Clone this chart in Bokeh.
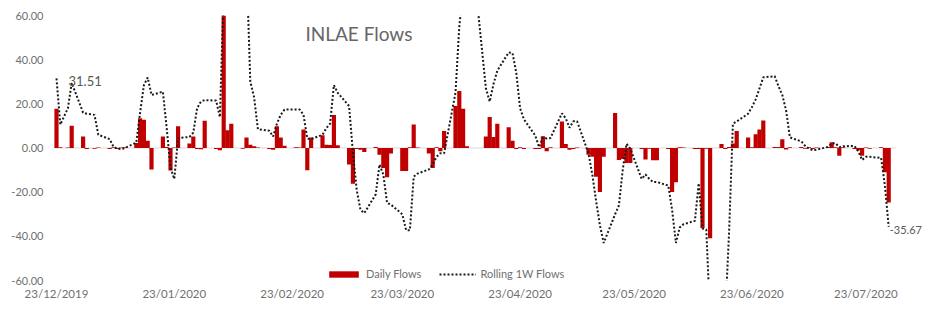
import pandas as pd
from bokeh.plotting import figure
from bokeh.models import (Range1d, FixedTicker, DatetimeTickFormatter, NumeralTickFormatter,
                          Label, Legend, LegendItem, ColumnDataSource)
from bokeh.embed import file_html
from bokeh.resources import INLINE

# ---------------- data ----------------
dates = (
    ["2019-12-23", "2019-12-24", "2019-12-26", "2019-12-27", "2019-12-30", "2019-12-31"]
    + ["2020-01-%02d" % d for d in [2, 3, 6, 7, 8, 9, 10, 13, 14, 15, 16, 17, 20, 21, 22, 23, 24, 27, 28, 29, 30, 31]]
    + ["2020-02-%02d" % d for d in [3, 4, 5, 6, 7, 10, 11, 12, 13, 14, 17, 18, 19, 20, 21, 24, 25, 26, 27, 28]]
    + ["2020-03-%02d" % d for d in [2, 3, 4, 5, 6, 9, 10, 11, 12, 13, 16, 17, 18, 19, 20, 23, 24, 25, 26, 27, 30, 31]]
    + ["2020-04-%02d" % d for d in [1, 2, 3, 6, 7, 8, 9, 10, 13, 14, 15, 16, 17, 20, 21, 22, 23, 24, 27, 28, 29, 30]]
    + ["2020-05-%02d" % d for d in [1, 4, 5, 6, 7, 8, 11, 12, 13, 14, 15, 18, 19, 20, 21, 22, 25, 26, 27, 28, 29]]
    + ["2020-06-%02d" % d for d in [1, 2, 3, 4, 5, 8, 9, 10, 11, 12, 15, 16, 17, 18, 19, 22, 23, 24, 25, 26, 29, 30]]
    + ["2020-07-%02d" % d for d in [1, 2, 3, 6, 7, 8, 9, 10, 13, 14, 15, 16, 17, 20, 21, 22, 23, 24, 27, 28, 29]]
)

daily_flows = (
    [17.8, 0.3, 0.2, 10.1, 5.2, -0.4]
    + [-0.3, 0.2, -0.5, 0.3, -0.4, 0.2, 0.3, 2.3, 13.5, 12.8, 3.3, -9.7, 5.2, 0.5, -10.2, 0.2, 9.8, 2.0, 5.2, -0.5, -0.6, 12.3]
    + [-0.5, -1.0, 60.0, 8.0, 11.0, -0.3, 4.8, 1.5, 0.8, 0.2, -0.5, -0.8, 9.8, 4.8, 1.0, 0.3, 0.2, 8.4, -10.1, 4.8]
    + [5.8, 1.5, 1.4, 14.9, 1.3, -7.5, -16.2, -0.5, -0.8, -1.8, 0.5, -3.0, -9.0, -13.3, -2.5, -10.4, -10.4, 0.3, 10.6, 0.2, -2.5, -9.0]
    + [0.3, -1.5, 7.7, 19.0, 25.8, 17.8, 0.8, 0.0, 0.0, 5.2, 14.0, 5.0, 11.0, 9.4, 3.3, -0.5, 0.3, -0.5, -0.4, -0.5, 5.3, -1.5]
    + [0.3, 12.0, 1.8, -0.8, -0.5, 0.2, -3.0, -4.0, -13.0, -19.9, -4.0, 15.8, -5.4, -5.0, -6.8, -6.8, -0.5, -5.2, -0.3, -5.5, -5.5]
    + [-0.5, -19.9, -15.5, 0.3, 0.2, -0.5, -0.4, -36.2, -0.3, -40.9, 1.8, -0.5, 0.4, 2.0, 7.7, 4.8, 0.3, 6.2, 8.4, 12.5, 0.4, 0.5]
    + [4.0, -0.7, 0.3, 0.4, -0.3, 0.3, -0.5, 0.2, 0.5, 2.6, 0.3, -3.5, 0.3, -0.4, -1.0, -3.5, 0.2, -0.3, 0.3, -11.0, -24.7]
)

rolling_1w_flows = (
    [31.51, 10.6, 18.0, 29.5, 16.0, 15.5]
    + [15.0, 6.0, 4.0, 0.5, -0.3, -0.5, 0.0, 2.5, 16.0, 28.5, 31.9, 24.0, 25.5, 9.0, -9.0, -14.0, 4.5, 5.0, 7.0, 18.0, 21.0, 21.7]
    + [21.5, 14.0, 71.0, 79.0, 78.0, 77.0, 84.0, 30.0, 23.0, 8.5, 7.8, 5.2, 11.0, 15.0, 17.4, 17.4, 17.4, 15.0, 4.3, 4.0]
    + [6.0, 9.0, 11.0, 28.5, 25.0, 19.0, -2.0, -19.0, -28.0, -29.5, -21.0, -7.5, -12.0, -24.9, -25.6, -30.0, -37.2, -37.2, -13.0, -11.6, -9.7, -7.5]
    + [-4.0, -2.4, -2.4, 25.0, 55.0, 72.0, 80.0, 95.0, 44.0, 27.0, 21.0, 29.0, 35.0, 43.3, 43.0, 34.0, 18.0, 13.0, 5.6, 0.4, 4.8, 4.3]
    + [4.5, 15.7, 13.5, 9.2, 12.1, 12.1, -2.5, -12.0, -24.0, -35.0, -43.0, -30.0, -26.0, -10.0, 1.9, -0.3, -14.0, -12.0, -14.0, -15.4, -15.4]
    + [-17.0, -28.0, -43.0, -36.0, -34.5, -33.0, -16.0, -36.5, -37.0, -77.0, -75.0, -75.0, -38.0, 11.0, 12.0, 15.5, 18.5, 22.0, 27.0, 32.0, 32.5, 28.0]
    + [24.0, 17.0, 4.8, 3.0, 1.0, -0.3, -1.0, -0.8, 0.5, 2.0, 2.2, 0.4, 0.8, 0.9, -1.5, -5.4, -4.0, -4.0, -4.5, -17.0, -35.67]
)

tick_dates = ["2019-12-23", "2020-01-23", "2020-02-23", "2020-03-23",
              "2020-04-23", "2020-05-23", "2020-06-23", "2020-07-23"]
y_ticks = [-60, -40, -20, 0, 20, 40, 60]
chart_title = "INLAE Flows"
series_names = ["Daily Flows", "Rolling 1W Flows"]

# ---------------- build ----------------
FONT = "Lato"
GRAY = "#707070"
DAY = pd.Timedelta(days=1)
W, H = 923, 302
LEFT, TOP, BOTTOM = 53, 15, 20           # borders around the plot frame (px)
PX_PER_DAY = 3.8

x = pd.to_datetime(dates)
src = ColumnDataSource(dict(x=x, daily=daily_flows, roll=rolling_1w_flows))

t0 = pd.Timestamp(tick_dates[0])
frame_w = W - LEFT
start = t0 - DAY * (3 / PX_PER_DAY)
end = start + DAY * (frame_w / PX_PER_DAY)
axis_end = t0 + DAY * 220.8

p = figure(width=W, height=H, x_axis_type="datetime",
           output_backend="svg", toolbar_location=None,
           x_range=Range1d(start, end), y_range=Range1d(-60, 60),
           min_border_left=LEFT, min_border_right=0,
           min_border_top=TOP, min_border_bottom=BOTTOM)
p.outline_line_color = None
p.xgrid.visible = False
p.ygrid.visible = False
p.background_fill_color = "white"

# category axis line at zero
p.segment(x0=[start], x1=[axis_end], y0=[0], y1=[0], line_color="#d9d9d9", line_width=1)

bars = p.vbar(x="x", top="daily", bottom=0, width=1.1 * 86400000, source=src,
              fill_color="#C00000", line_color=None)
line = p.line(x="x", y="roll", source=src, line_color="#1a1a1a", line_width=2,
              line_dash="2 2")

# axes
p.xaxis.ticker = FixedTicker(ticks=[pd.Timestamp(t).value // 10**6 for t in tick_dates])
fmt = "%d/%m/%Y"
p.xaxis.formatter = DatetimeTickFormatter(days=fmt, months=fmt, years=fmt, hours=fmt,
                                          hourmin=fmt, minutes=fmt, context=None)
p.yaxis.ticker = FixedTicker(ticks=y_ticks)
p.yaxis.formatter = NumeralTickFormatter(format="0.00")
for ax in (p.xaxis, p.yaxis):
    ax.axis_line_color = None
    ax.major_tick_line_color = None
    ax.minor_tick_line_color = None
    ax.major_tick_out = 0
    ax.major_tick_in = 0
    ax.minor_tick_out = 0
    ax.minor_tick_in = 0
    ax.axis_label_standoff = 0
    ax.major_label_text_font = FONT
    ax.major_label_text_color = GRAY
p.xaxis.major_label_text_font_size = "11.5px"
p.yaxis.major_label_text_font_size = "11px"
p.xaxis.major_label_standoff = 6
p.yaxis.major_label_standoff = 10

# title
p.add_layout(Label(x=t0 + DAY * 65.5, y=52.0, text=chart_title,
                   text_font=FONT, text_font_size="19px", text_color="#666666",
                   text_baseline="middle", text_align="left"))

# data labels at first and last point
p.add_layout(Label(x=x[0], y=rolling_1w_flows[0], text="%.2f" % rolling_1w_flows[0],
                   x_offset=12, y_offset=-3, text_font=FONT, text_font_size="13px",
                   text_color="#595959", text_baseline="middle"))
p.add_layout(Label(x=x[-1], y=rolling_1w_flows[-1], text="%.2f" % rolling_1w_flows[-1],
                   x_offset=1, y_offset=-3, text_font=FONT, text_font_size="11px",
                   text_color="#595959", text_baseline="middle"))

legend = Legend(items=[LegendItem(label=series_names[0], renderers=[bars]),
                       LegendItem(label=series_names[1], renderers=[line])],
                orientation="horizontal", location=(272, 0),
                glyph_width=37, glyph_height=8, label_standoff=4, spacing=18,
                padding=0, margin=0, border_line_alpha=0, background_fill_alpha=0,
                label_text_font=FONT, label_text_font_size="11px", label_text_color=GRAY)
p.add_layout(legend)

open("out.html", "w").write(file_html(p, INLINE))
